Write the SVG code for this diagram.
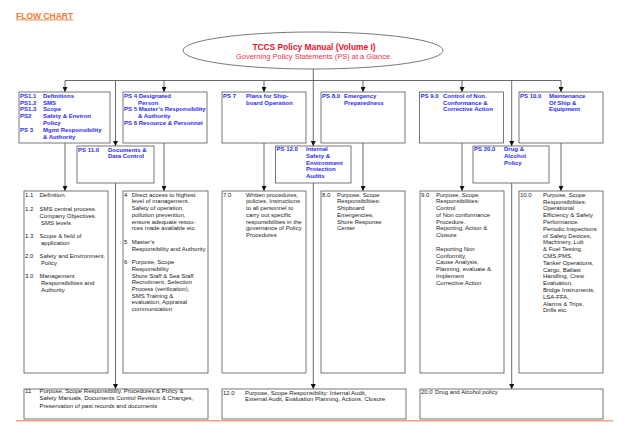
<svg xmlns="http://www.w3.org/2000/svg" width="630" height="434" viewBox="0 0 630 434">
<style>
.bg{fill:#ffffff}
.box{fill:#ffffff;stroke:#555555;stroke-width:0.8}
.ps{font-family:"Liberation Sans",Arial,sans-serif;font-size:6px;font-weight:bold;fill:#2b2bf0}
.tx{font-family:"Liberation Sans",Arial,sans-serif;font-size:6px;fill:#222222}
.ln{stroke:#444444;stroke-width:0.8;fill:none}
.t1{font-family:"Liberation Sans",Arial,sans-serif;font-size:8.4px;font-weight:bold;fill:#e8102a}
.t2{font-family:"Liberation Sans",Arial,sans-serif;font-size:7.5px;fill:#ef3048}
.fc{font-family:"Liberation Sans",Arial,sans-serif;font-size:8.5px;font-weight:bold;fill:#ee7a34;text-decoration:underline}
</style>
<defs>
<marker id="ar" markerWidth="5" markerHeight="5" refX="5" refY="2.5" orient="auto" markerUnits="userSpaceOnUse"><path d="M0,0 L5,2.5 L0,5 z" fill="#111111"/></marker>
</defs>
<rect class="bg" x="0" y="0" width="630" height="434"/>
<text class="fc" x="16" y="18.5">FLOW CHART</text>

<g id="connectors">
<line class="ln" x1="313.3" y1="69" x2="313.3" y2="146" marker-end="url(#ar)"/>
<line class="ln" x1="65" y1="80.5" x2="561" y2="80.5"/>
<line class="ln" x1="65" y1="80.5" x2="65" y2="92" marker-end="url(#ar)"/>
<line class="ln" x1="164" y1="80.5" x2="164" y2="92" marker-end="url(#ar)"/>
<line class="ln" x1="264" y1="80.5" x2="264" y2="92" marker-end="url(#ar)"/>
<line class="ln" x1="363" y1="80.5" x2="363" y2="92" marker-end="url(#ar)"/>
<line class="ln" x1="462" y1="80.5" x2="462" y2="92" marker-end="url(#ar)"/>
<line class="ln" x1="561" y1="80.5" x2="561" y2="92" marker-end="url(#ar)"/>
<line class="ln" x1="115.5" y1="80.5" x2="115.5" y2="146" marker-end="url(#ar)"/>
<line class="ln" x1="511.7" y1="80.5" x2="511.7" y2="146" marker-end="url(#ar)"/>
<line class="ln" x1="115.5" y1="183" x2="115.5" y2="389" marker-end="url(#ar)"/>
<line class="ln" x1="313.3" y1="183" x2="313.3" y2="389" marker-end="url(#ar)"/>
<line class="ln" x1="511.7" y1="183" x2="511.7" y2="389" marker-end="url(#ar)"/>
<line class="ln" x1="65" y1="143" x2="65" y2="191" marker-end="url(#ar)"/>
<line class="ln" x1="164" y1="143" x2="164" y2="191" marker-end="url(#ar)"/>
<line class="ln" x1="264" y1="143" x2="264" y2="191" marker-end="url(#ar)"/>
<line class="ln" x1="363" y1="143" x2="363" y2="191" marker-end="url(#ar)"/>
<line class="ln" x1="462" y1="143" x2="462" y2="191" marker-end="url(#ar)"/>
<line class="ln" x1="561" y1="143" x2="561" y2="191" marker-end="url(#ar)"/>
</g>

<g id="root">
<ellipse cx="313" cy="50.5" rx="130" ry="18.5" fill="#ffffff" stroke="#555555" stroke-width="0.8"/>
<text class="t1" x="314" y="50" text-anchor="middle">TCCS Policy Manual (Volume I)</text>
<text class="t2" x="313" y="58.5" text-anchor="middle">Governing Policy Statements (PS) at a Glance</text>
</g>

<g id="ps1">
<rect class="box" x="19" y="92" width="91" height="51"/>
<text class="ps">
<tspan x="20" y="97.7">PS1.1</tspan><tspan x="43" y="97.7">Definitions</tspan>
<tspan x="20" y="104.5">PS1.2</tspan><tspan x="43" y="104.5">SMS</tspan>
<tspan x="20" y="111.4">PS1.3</tspan><tspan x="43" y="111.4">Scope</tspan>
<tspan x="20" y="118.2">PS2</tspan><tspan x="43" y="118.2">Safety &amp; Environ</tspan>
<tspan x="43" y="125">Policy</tspan>
<tspan x="20" y="131.9">PS 3</tspan><tspan x="43" y="131.9">Mgmt Responsibility</tspan>
<tspan x="43" y="138.7">&amp; Authority</tspan>
</text>
</g>

<g id="ps4">
<rect class="box" x="123" y="92" width="84" height="51"/>
<text class="ps">
<tspan x="124" y="97.7">PS 4 Designated</tspan>
<tspan x="138" y="104.5">Person</tspan>
<tspan x="124" y="111.4">PS 5 Master’s Responsibility</tspan>
<tspan x="138" y="118.2">&amp; Authority</tspan>
<tspan x="124" y="125">PS 6 Resource &amp; Personnel</tspan>
</text>
</g>

<g id="ps7">
<rect class="box" x="222" y="92" width="84" height="51"/>
<text class="ps">
<tspan x="223" y="97.7">PS 7</tspan><tspan x="246" y="97.7">Plans for Ship-</tspan>
<tspan x="246" y="104.5">board  Operation</tspan>
</text>
</g>

<g id="ps8">
<rect class="box" x="321" y="92" width="84" height="51"/>
<text class="ps">
<tspan x="322" y="97.7">PS 8.0</tspan><tspan x="344" y="97.7">Emergency</tspan>
<tspan x="344" y="104.5">Preparedness</tspan>
</text>
</g>

<g id="ps9">
<rect class="box" x="419.5" y="92" width="84" height="51"/>
<text class="ps">
<tspan x="420.5" y="97.7">PS 9.0</tspan><tspan x="443" y="97.7">Control of Non.</tspan>
<tspan x="443" y="104.5">Conformance &amp;</tspan>
<tspan x="443" y="111.4">Corrective Action</tspan>
</text>
</g>

<g id="ps10">
<rect class="box" x="519" y="92" width="84" height="51"/>
<text class="ps">
<tspan x="520" y="97.7">PS 10.0</tspan><tspan x="549" y="97.7">Maintenance</tspan>
<tspan x="549" y="104.5">Of Ship &amp;</tspan>
<tspan x="549" y="111.4">Equipment</tspan>
</text>
</g>

<g id="ps11">
<rect class="box" x="77" y="146" width="77" height="37"/>
<text class="ps">
<tspan x="78" y="151.5">PS 11.0</tspan><tspan x="108" y="151.5">Documents &amp;</tspan>
<tspan x="108" y="158.3">Data Control</tspan>
</text>
</g>

<g id="ps12">
<rect class="box" x="275.5" y="146" width="75.5" height="37"/>
<text class="ps">
<tspan x="276.5" y="151.3">PS 12.0</tspan><tspan x="306" y="151.3">Internal</tspan>
<tspan x="306" y="158">Safety &amp;</tspan>
<tspan x="306" y="164.7">Environment</tspan>
<tspan x="306" y="171.4">Protection</tspan>
<tspan x="306" y="178.1">Audits</tspan>
</text>
</g>

<g id="ps20">
<rect class="box" x="473" y="146" width="76" height="37"/>
<text class="ps">
<tspan x="474" y="151.3">PS 20.0</tspan><tspan x="504" y="151.3">Drug &amp;</tspan>
<tspan x="504" y="158">Alcohol</tspan>
<tspan x="504" y="164.7">Policy</tspan>
</text>
</g>

<g id="d1">
<rect class="box" x="24" y="191" width="84" height="182"/>
<text class="tx">
<tspan x="25" y="196.7">1.1</tspan><tspan x="39.5" y="196.7">Definition.</tspan>
<tspan x="25" y="211.3">1.2</tspan><tspan x="39.5" y="211.3">SMS central process.</tspan>
<tspan x="39.5" y="217.9">Company Objectives.</tspan>
<tspan x="41" y="224.5">SMS levels</tspan>
<tspan x="25" y="238.2">1.3</tspan><tspan x="39.5" y="238.2">Scope &amp; field of</tspan>
<tspan x="41" y="244.8">application</tspan>
<tspan x="25" y="258">2.0</tspan><tspan x="39.5" y="258">Safety and Environment.</tspan>
<tspan x="41" y="264.8">Policy</tspan>
<tspan x="25" y="278.2">3.0</tspan><tspan x="39.5" y="278.2">Management</tspan>
<tspan x="41" y="284.9">Responsibilities and</tspan>
<tspan x="41" y="291.5">Authority</tspan>
</text>
</g>

<g id="d4">
<rect class="box" x="123" y="191" width="85" height="182"/>
<text class="tx">
<tspan x="124" y="196.7">4</tspan><tspan x="131.7" y="196.7">Direct access to highest</tspan>
<tspan x="131.7" y="203.4">level of management.</tspan>
<tspan x="131.7" y="210.1">Safety of operation,</tspan>
<tspan x="131.7" y="216.8">pollution prevention,</tspan>
<tspan x="131.7" y="223.5">ensure adequate resou-</tspan>
<tspan x="131.7" y="230.2">rces made available etc</tspan>
<tspan x="124" y="244">5</tspan><tspan x="131.7" y="244">Master’s</tspan>
<tspan x="131.7" y="250.9">Responsibility and Authority</tspan>
<tspan x="124" y="264.2">6</tspan><tspan x="131.7" y="264.2">Purpose, Scope</tspan>
<tspan x="131.7" y="270.9">Responsibility</tspan>
<tspan x="131.7" y="277.6">Shore Staff &amp; Sea Staff</tspan>
<tspan x="131.7" y="284.3">Recruitment, Selection</tspan>
<tspan x="131.7" y="291">Process (verification),</tspan>
<tspan x="131.7" y="297.7">SMS Training &amp;</tspan>
<tspan x="131.7" y="304.4">evaluation, Appraisal</tspan>
<tspan x="131.7" y="311.1">communication</tspan>
</text>
</g>

<g id="d7">
<rect class="box" x="222" y="191" width="84" height="182"/>
<text class="tx">
<tspan x="223" y="196.7">7.0</tspan><tspan x="246" y="196.7">Written procedures,</tspan>
<tspan x="246" y="203.4">policies, Instructions</tspan>
<tspan x="246" y="210.1">to all personnel to</tspan>
<tspan x="246" y="216.8">carry out specific</tspan>
<tspan x="246" y="223.5">responsibilities in the</tspan>
<tspan x="246" y="230.2">governance of  Policy</tspan>
<tspan x="246" y="236.9">Procedures</tspan>
</text>
</g>

<g id="d8">
<rect class="box" x="321" y="191" width="84" height="182"/>
<text class="tx">
<tspan x="322" y="196.7">8.0</tspan><tspan x="337" y="196.7">Purpose, Scope</tspan>
<tspan x="337" y="203.4">Responsibilities:</tspan>
<tspan x="337" y="210.1">Shipboard</tspan>
<tspan x="337" y="216.8">Emergencies,</tspan>
<tspan x="337" y="223.5">Shore Response</tspan>
<tspan x="337" y="230.2">Center</tspan>
</text>
</g>

<g id="d9">
<rect class="box" x="420" y="191" width="84" height="182"/>
<text class="tx">
<tspan x="421" y="196.7">9.0</tspan><tspan x="436" y="196.7">Purpose, Scope</tspan>
<tspan x="436" y="203.4">Responsibilities:</tspan>
<tspan x="436" y="210.1">Control</tspan>
<tspan x="436" y="216.8">of Non conformance</tspan>
<tspan x="436" y="223.5">Procedure.</tspan>
<tspan x="436" y="230.2">Reporting, Action  &amp;</tspan>
<tspan x="436" y="236.9">Closure</tspan>
<tspan x="436" y="251">Reporting Non</tspan>
<tspan x="436" y="257.7">Conformity,</tspan>
<tspan x="436" y="264.4">Cause Analysis,</tspan>
<tspan x="436" y="271.1">Planning, evaluate &amp;</tspan>
<tspan x="436" y="277.8">Implement</tspan>
<tspan x="436" y="284.5">Corrective Action</tspan>
</text>
</g>

<g id="d10">
<rect class="box" x="519" y="191" width="84" height="182"/>
<text class="tx">
<tspan x="520" y="196.7">10.0</tspan><tspan x="543" y="196.7">Purpose, Scope</tspan>
<tspan x="543" y="203.5">Responsibilities:</tspan>
<tspan x="543" y="210.3">Operational</tspan>
<tspan x="543" y="217.1">Efficiency &amp; Safety</tspan>
<tspan x="543" y="223.9">Performance.</tspan>
<tspan x="543" y="230.7">Periodic Inspections</tspan>
<tspan x="543" y="237.5">of  Safety Devices,</tspan>
<tspan x="543" y="244.3">Machinery, Lub</tspan>
<tspan x="543" y="251.1">&amp; Fuel Testing,</tspan>
<tspan x="543" y="257.9">CMS,PMS,</tspan>
<tspan x="543" y="264.7">Tanker Operations,</tspan>
<tspan x="543" y="271.5">Cargo, Ballast</tspan>
<tspan x="543" y="278.3">Handling, Crew</tspan>
<tspan x="543" y="285.1">Evaluation,</tspan>
<tspan x="543" y="291.9">Bridge Instruments,</tspan>
<tspan x="543" y="298.7">LSA-FFA,</tspan>
<tspan x="543" y="305.5">Alarms &amp; Trips,</tspan>
<tspan x="543" y="312.3">Drills etc.</tspan>
</text>
</g>

<g id="b11">
<rect class="box" x="24" y="389" width="184" height="30"/>
<text class="tx">
<tspan x="25" y="393.2">11</tspan><tspan x="39.5" y="393.2">Purpose, Scope Responsibility. Procedures &amp; Policy &amp;</tspan>
<tspan x="39.5" y="399.7">Safety Manuals, Documents Control Revision &amp; Changes,</tspan>
<tspan x="39.5" y="407.5">Preservation of past records and documents</tspan>
</text>
</g>

<g id="b12">
<rect class="box" x="222" y="389" width="184" height="30"/>
<text class="tx">
<tspan x="223" y="394.7">12.0</tspan><tspan x="245" y="394.7">Purpose, Scope Responsibility: Internal Audit,</tspan>
<tspan x="245" y="401">External Audit, Evaluation Planning, Actions, Closure</tspan>
</text>
</g>

<g id="b20">
<rect class="box" x="420" y="389" width="183" height="30"/>
<text class="tx"><tspan x="421" y="393.7">20.0</tspan><tspan x="435" y="393.7">Drug and Alcohol policy</tspan></text>
</g>

<line x1="16" y1="420.8" x2="613" y2="420.8" stroke="#f4a47c" stroke-width="1.5"/>
</svg>
